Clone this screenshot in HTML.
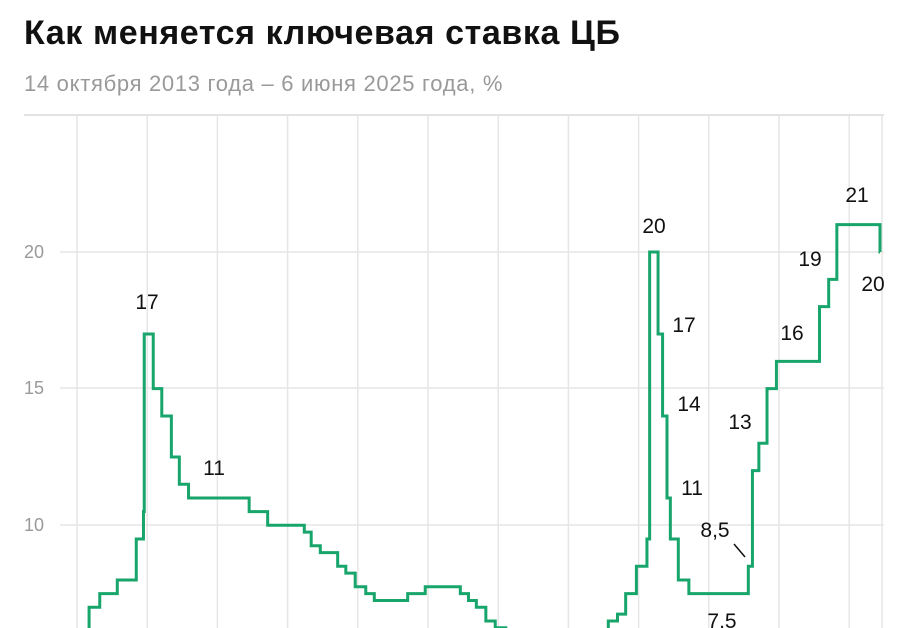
<!DOCTYPE html>
<html><head><meta charset="utf-8"><style>
html,body{margin:0;background:#fff;width:904px;height:628px;overflow:hidden;font-family:"Liberation Sans",sans-serif}
.t{position:absolute;left:24px;top:14px;font-size:34px;font-weight:bold;color:#111;letter-spacing:0.6px;white-space:nowrap}
.s{position:absolute;left:24px;top:71px;font-size:22px;color:#999;letter-spacing:0.7px;white-space:nowrap}
svg{position:absolute;left:0;top:0}
</style></head><body>
<div class="t">Как меняется ключевая ставка ЦБ</div>
<div class="s">14 октября 2013 года – 6 июня 2025 года, %</div>
<svg width="904" height="628" id="c" font-family="Liberation Sans, sans-serif">
<line x1="24" y1="115" x2="884" y2="115" stroke="#e3e3e3" stroke-width="2"/>
<g id="g" stroke="#e6e6e6" stroke-width="1.5"></g>
<g fill="#999" font-size="18"><text x="24" y="258">20</text><text x="24" y="394">15</text><text x="24" y="531">10</text></g>
<path id="p" fill="none" stroke="#17a56b" stroke-width="3"/>
<g fill="#111" font-size="21" text-anchor="middle">
<text x="147" y="309">17</text><text x="214" y="475">11</text><text x="654" y="233">20</text>
<text x="684" y="332">17</text><text x="689" y="411">14</text><text x="692" y="495">11</text>
<text x="715" y="537">8,5</text><text x="722" y="628">7,5</text><text x="740" y="429">13</text>
<text x="792" y="340">16</text><text x="810" y="266">19</text><text x="857" y="202">21</text><text x="873" y="291">20</text>
</g>
<line x1="734" y1="544" x2="745" y2="557" stroke="#111" stroke-width="1.5"/>
</svg>
<script>
var X=function(d){var p=d.split('-');var y=+p[0]+(+p[1]-1)/12+(+p[2]-1)/365;return 77+(y-2014)*70.2;};
var Y=function(v){return 252+(20-v)*27.33;};
var g=document.getElementById('g'),h='';
for(var i=0;i<12;i++){var x=77+i*70.2;h+='<line x1="'+x+'" y1="115" x2="'+x+'" y2="628"/>';}
h+='<line x1="882" y1="115" x2="882" y2="628"/>';
[252,388,525].forEach(function(y){h+='<line x1="60" y1="'+y+'" x2="884" y2="'+y+'"/>';});
g.innerHTML=h;
var d=[["2013-09-13",5.5],["2014-03-03",7],["2014-04-28",7.5],["2014-07-28",8],["2014-11-05",9.5],["2014-12-12",10.5],["2014-12-16",17],["2015-02-02",15],["2015-03-16",14],["2015-05-05",12.5],["2015-06-16",11.5],["2015-08-03",11],["2016-06-14",10.5],["2016-09-19",10],["2017-03-27",9.75],["2017-05-02",9.25],["2017-06-19",9],["2017-09-18",8.5],["2017-10-30",8.25],["2017-12-18",7.75],["2018-02-12",7.5],["2018-03-26",7.25],["2018-09-17",7.5],["2018-12-17",7.75],["2019-06-17",7.5],["2019-07-29",7.25],["2019-09-09",7],["2019-10-28",6.5],["2019-12-16",6.25],["2020-02-10",6],["2020-04-27",5.5],["2020-06-22",4.5],["2020-07-27",4.25],["2021-03-22",4.5],["2021-04-26",5],["2021-06-15",5.5],["2021-07-26",6.5],["2021-09-13",6.75],["2021-10-25",7.5],["2021-12-20",8.5],["2022-02-14",9.5],["2022-02-28",20],["2022-04-11",17],["2022-05-04",14],["2022-05-27",11],["2022-06-14",9.5],["2022-07-25",8],["2022-09-19",7.5],["2023-07-24",8.5],["2023-08-15",12],["2023-09-18",13],["2023-10-30",15],["2023-12-18",16],["2024-07-29",18],["2024-09-16",19],["2024-10-28",21],["2025-06-09",20]];
var s='M'+X("2013-10-14")+','+Y(5.5),pv=5.5;
for(var k=1;k<d.length;k++){var x=X(d[k][0]);s+=' L'+x+','+Y(pv)+' L'+x+','+Y(d[k][1]);pv=d[k][1];}
s+=' L880,'+Y(pv);
document.getElementById('p').setAttribute('d',s);
</script>
</body></html>
